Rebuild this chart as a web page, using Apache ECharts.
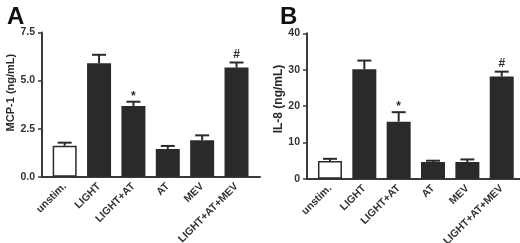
<!DOCTYPE html>
<html>
<head>
<meta charset="utf-8">
<script src="https://cdn.jsdelivr.net/npm/echarts@6/dist/echarts.min.js"></script>
<style>
  html, body { margin: 0; padding: 0; background: #fff; }
  #chart { width: 520px; height: 243px; }
</style>
</head>
<body>
<div id="chart"></div>
<script>
const categories = ["unstim.", "LIGHT", "LIGHT+AT", "AT", "MEV", "LIGHT+AT+MEV"];
const mcpMeans = [1.61, 5.9, 3.68, 1.44, 1.9, 5.68];
const mcpErr = [0.16, 0.44, 0.22, 0.16, 0.25, 0.26];
const il8Means = [4.87, 30.1, 15.7, 4.6, 4.6, 28.1];
const il8Err = [0.6, 2.4, 2.6, 0.35, 0.7, 1.35];
const marks = ["", "", "*", "", "", "#"];
const mcpTicks = { min: 0, max: 7.5, interval: 2.5 };
const il8Ticks = { min: 0, max: 40, interval: 10 };

const FONT = "Liberation Sans";
const DARK = "#2a2a2a";
const AXIS = "#3a3a3a";

const myChart = echarts.init(document.getElementById("chart"));

function barData(means) {
  return means.map((v, i) => {
    if (i === 0) {
      return { value: v, itemStyle: { color: "#fff", borderColor: DARK, borderWidth: 1.5 } };
    }
    return v;
  });
}

function errorSeries(means, errs, axisIdx) {
  return {
    type: "custom",
    xAxisIndex: axisIdx,
    yAxisIndex: axisIdx,
    z: 3,
    data: means.map((m, i) => [i, m, errs[i]]),
    renderItem: function (params, api) {
      const x = api.value(0);
      const m = api.value(1);
      const e = api.value(2);
      const base = api.coord([x, m]);
      const top = api.coord([x, m + e]);
      const half = 7;
      const children = [
        { type: "line", shape: { x1: base[0], y1: base[1], x2: top[0], y2: top[1] },
          style: { stroke: DARK, lineWidth: 2 } },
        { type: "line", shape: { x1: top[0] - half, y1: top[1], x2: top[0] + half, y2: top[1] },
          style: { stroke: DARK, lineWidth: 2 } },
      ];
      const mk = marks[params.dataIndex];
      if (mk) {
        children.push({
          type: "text",
          style: {
            text: mk, x: top[0], y: top[1] - (mk === "*" ? -1 : 2),
            align: "center", verticalAlign: "bottom",
            font: "bold 12px " + FONT, fill: DARK,
          },
        });
      }
      return { type: "group", children: children };
    },
  };
}

function outerY(ticks, name, gap, size, pad) {
  return {
    type: "value",
    min: ticks.min, max: ticks.max, interval: ticks.interval,
    name: name,
    nameLocation: "middle",
    nameGap: gap,
    nameTextStyle: { fontFamily: FONT, fontWeight: "bold", fontSize: size, color: DARK, padding: pad },
    axisLine: { show: true, lineStyle: { color: AXIS, width: 2 } },
    axisTick: { show: true, length: 4, lineStyle: { color: AXIS, width: 1.5 } },
    axisLabel: {
      margin: 7, fontFamily: FONT, fontWeight: "bold", fontSize: 10.5, color: "#333",
      formatter: (v) => (ticks.interval < 5 ? v.toFixed(1) : String(v)),
    },
    splitLine: { show: false },
  };
}

function innerY(ticks, gridIdx) {
  return { type: "value", gridIndex: gridIdx, min: ticks.min, max: ticks.max, show: false };
}

const option = {
  animation: false,
  title: [
    { text: "A", left: 2, top: 0, textStyle: { fontFamily: FONT, fontWeight: "bold", fontSize: 24, color: "#111" } },
    { text: "B", left: 275, top: 0, textStyle: { fontFamily: FONT, fontWeight: "bold", fontSize: 24, color: "#111" } },
  ],
  grid: [
    { left: 47.5, right: 266.3, top: 32.5, bottom: 66.3, outerBoundsMode: "none" },
    { left: 312.8, right: 1.1, top: 33.3, bottom: 64.3, outerBoundsMode: "none" },
    { left: 42, right: 260, top: 32.5, bottom: 66.3, outerBoundsMode: "none" },
    { left: 307, right: 0, top: 33.3, bottom: 64.3, outerBoundsMode: "none" },
  ],
  xAxis: [0, 1].map((g) => ({
    type: "category",
    gridIndex: g,
    data: categories,
    axisLine: { show: false },
    axisTick: { show: false },
    axisLabel: { rotate: 45, margin: 8, interval: 0, fontFamily: FONT, fontWeight: "bold", fontSize: 10.5, color: "#333" },
  })).concat([2, 3].map((g) => ({
    type: "value",
    gridIndex: g,
    min: 0, max: 1,
    axisLine: { show: true, lineStyle: { color: AXIS, width: 2 } },
    axisTick: { show: false },
    axisLabel: { show: false },
    splitLine: { show: false },
  }))),
  yAxis: [
    innerY(mcpTicks, 0),
    innerY(il8Ticks, 1),
    Object.assign(outerY(mcpTicks, "MCP-1 (ng/mL)", 24, 11, [0, 0, 0, 24]), { gridIndex: 2 }),
    Object.assign(outerY(il8Ticks, "IL-8 (ng/mL)", 20, 12, [0, 0, 0, 14]), { gridIndex: 3 }),
  ],
  series: [
    { type: "bar", xAxisIndex: 0, yAxisIndex: 0, barWidth: 24, itemStyle: { color: DARK }, data: barData(mcpMeans) },
    { type: "bar", xAxisIndex: 1, yAxisIndex: 1, barWidth: 24, itemStyle: { color: DARK }, data: barData(il8Means) },
    errorSeries(mcpMeans, mcpErr, 0),
    errorSeries(il8Means, il8Err, 1),
  ],
};

myChart.setOption(option);
window.addEventListener("resize", function () {
  myChart.resize();
});
</script>
</body>
</html>
